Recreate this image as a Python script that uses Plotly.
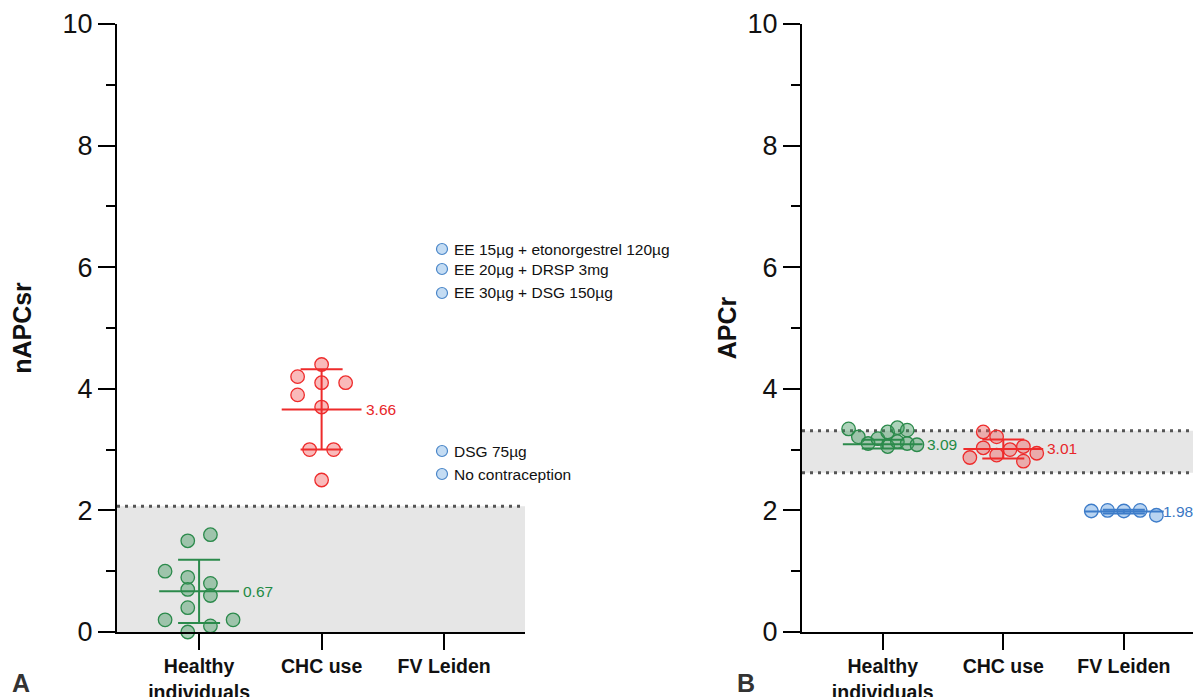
import plotly.graph_objects as go
import numpy as np

# ---------------- data ----------------
categories = ["Healthy<br>individuals", "CHC use", "FV Leiden"]
y_ticks = [0, 2, 4, 6, 8, 10]

# Panel A : nAPCsr
a_healthy = [1.5, 1.6, 1.0, 0.9, 0.8, 0.7, 0.6, 0.4, 0.2, 0.1, 0.2, 0.0]
a_chc = [4.4, 4.2, 4.1, 4.1, 3.9, 3.7, 3.0, 3.0, 2.5]
a_means = [0.67, 3.66]
a_sds = [0.52, 0.66]
a_reference_upper = 2.07

# Panel B : APCr
b_healthy = [3.34, 3.21, 3.10, 3.18, 3.29, 3.36, 3.32, 3.05, 3.13, 3.10, 3.08]
b_chc = [3.29, 3.21, 3.03, 2.87, 2.91, 3.00, 3.05, 2.81, 2.94]
b_fvl = [1.99, 2.00, 1.99, 2.00, 1.92]
b_means = [3.09, 3.01, 1.98]
b_sds = [0.07, 0.155, 0.03]
b_reference_range = [2.62, 3.31]

legend_labels = [
    "EE 15µg + etonorgestrel 120µg",
    "EE 20µg + DRSP 3mg",
    "EE 30µg + DSG 150µg",
    "DSG 75µg",
    "No contraception",
]

# ---------------- layout helpers (positions / styles) ----------------
OFF = 8                      # default body margin of the html page
W, H = 1201 - OFF, 697 - OFF
FONT = "Liberation Sans, Arial, sans-serif"


def px_x(px):
    return (px - OFF) / W


def px_y(py):
    return 1 - (py - OFF) / H


# horizontal slot positions of the dots (scatter-dot layout), in slot units
a_healthy_slots = [-0.5, 0.5, -1.5, -0.5, 0.5, -0.5, 0.5, -0.5, -1.5, 0.5, 1.5, -0.5]
a_chc_slots = [0, -1, 0, 1, -1, 0, -0.5, 0.5, 0]
b_healthy_slots = [-3.5, -2.5, -1.5, -0.5, 0.5, 1.5, 2.5, 0.5, 1.5, 2.5, 3.5]
b_chc_slots = [-1.5, -0.5, -1.5, -2.5, -0.5, 0.5, 1.5, 1.5, 2.5]
b_fvl_slots = [-2, -1, 0, 1, 2]

GREEN = "#2b8a4b"
GREEN_FILL = "rgba(60,150,90,0.42)"
RED = "#ee2b2b"
RED_FILL = "rgba(240,90,90,0.42)"
BLUE = "#3d7cc9"
BLUE_FILL = "rgba(100,160,225,0.45)"

fig = go.Figure()


def dots(xaxis, yaxis, idx, values, slots, spacing, line, fill):
    xs = idx + np.array(slots) * spacing
    fig.add_trace(go.Scatter(
        x=xs, y=values, mode="markers", xaxis=xaxis, yaxis=yaxis,
        marker=dict(size=13.5, color=fill, line=dict(color=line, width=1.3)),
        cliponaxis=False, showlegend=False, hoverinfo="y"))


def mean_sd(xaxis, yaxis, idx, mean, sd, color, label_color, label_shift=42):
    fig.add_trace(go.Scatter(
        x=[idx], y=[mean], mode="markers", xaxis=xaxis, yaxis=yaxis,
        marker=dict(symbol="line-ew", size=57, color=color,
                    line=dict(color=color, width=2)),
        error_y=dict(type="data", array=[sd], visible=True, width=21,
                     thickness=2, color=color),
        cliponaxis=False, showlegend=False, hoverinfo="y"))
    fig.add_annotation(x=idx, y=mean, xref=xaxis, yref=yaxis, text=f"{mean:.2f}",
                       showarrow=False, xanchor="left", yanchor="middle",
                       xshift=label_shift,
                       font=dict(family=FONT, size=15.5, color=label_color))


# Panel A
dots("x", "y", 0, a_healthy, a_healthy_slots, 0.185, GREEN, GREEN_FILL)
dots("x", "y", 1, a_chc, a_chc_slots, 0.196, RED, RED_FILL)
mean_sd("x", "y", 0, a_means[0], a_sds[0], GREEN, "#1f8a45")
mean_sd("x", "y", 1, a_means[1], a_sds[1], RED, "#e8262a")

# Panel B
dots("x2", "y2", 0, b_healthy, b_healthy_slots, 0.081, GREEN, GREEN_FILL)
dots("x2", "y2", 1, b_chc, b_chc_slots, 0.111, RED, RED_FILL)
dots("x2", "y2", 2, b_fvl, b_fvl_slots, 0.135, BLUE, BLUE_FILL)
mean_sd("x2", "y2", 0, b_means[0], b_sds[0], GREEN, "#1f8a45")
mean_sd("x2", "y2", 1, b_means[1], b_sds[1], RED, "#e8262a")
mean_sd("x2", "y2", 2, b_means[2], b_sds[2], BLUE, "#3a78c4", label_shift=37)

# reference ranges
DOT = dict(color="#555555", width=3, dash="3px,5px")
fig.add_shape(type="rect", xref="x domain", yref="y", x0=0, x1=1, y0=0,
              y1=a_reference_upper, fillcolor="#e6e6e6", line_width=0, layer="below")
fig.add_shape(type="line", xref="x domain", yref="y", x0=0, x1=1,
              y0=a_reference_upper, y1=a_reference_upper, line=DOT, layer="below")
fig.add_shape(type="rect", xref="x2 domain", yref="y2", x0=0, x1=1,
              y0=b_reference_range[0], y1=b_reference_range[1],
              fillcolor="#e6e6e6", line_width=0, layer="below")
for yv in b_reference_range:
    fig.add_shape(type="line", xref="x2 domain", yref="y2", x0=0, x1=1,
                  y0=yv, y1=yv, line=DOT, layer="below")

# legend (drawn as circles + labels)
legend_y_px = [249, 269, 293, 451, 474]
for label, py in zip(legend_labels, legend_y_px):
    fig.add_shape(type="circle", xref="paper", yref="paper",
                  xsizemode="pixel", ysizemode="pixel",
                  xanchor=px_x(442), yanchor=px_y(py),
                  x0=-5.5, x1=5.5, y0=-5.5, y1=5.5,
                  fillcolor="#c4dcf3", line=dict(color="#4a86c8", width=1.2))
    fig.add_annotation(x=px_x(452), y=px_y(py), xref="paper", yref="paper",
                       text=label, showarrow=False, xanchor="left", yanchor="middle",
                       font=dict(family=FONT, size=15.5, color="#111111"))

# panel letters
for letter, px in (("A", 21), ("B", 746)):
    fig.add_annotation(x=px_x(px), y=px_y(683), xref="paper", yref="paper",
                       text=f"<b>{letter}</b>", showarrow=False,
                       xanchor="center", yanchor="middle",
                       font=dict(family=FONT, size=25, color="#333333"))

xaxis_common = dict(
    tickmode="array", tickvals=list(range(len(categories))), ticktext=categories,
    showline=True, linecolor="black", linewidth=2,
    ticks="outside", ticklen=16, tickwidth=2, tickcolor="black",
    tickfont=dict(family=FONT, size=19.5, color="#111111", weight="bold"),
    showgrid=False, zeroline=False, automargin=False, fixedrange=True,
)
yaxis_common = dict(
    range=[0, 10], tickmode="array", tickvals=y_ticks,
    showline=True, linecolor="black", linewidth=2,
    ticks="outside", ticklen=17, tickwidth=2, tickcolor="black",
    minor=dict(ticks="outside", ticklen=9, tickwidth=2, tickcolor="black", dtick=1,
               tick0=0, showgrid=False),
    tickfont=dict(family=FONT, size=27, color="#111111"),
    showgrid=False, zeroline=False, automargin=False, fixedrange=True,
)

fig.update_layout(
    width=W, height=H, autosize=False,
    margin=dict(l=0, r=0, t=0, b=0),
    paper_bgcolor="white", plot_bgcolor="rgba(0,0,0,0)",
    showlegend=False,
    font=dict(family=FONT),
    xaxis=dict(xaxis_common, domain=[px_x(117), px_x(525)], range=[-0.67, 2.66], anchor="y"),
    yaxis=dict(yaxis_common, domain=[px_y(632), px_y(24)], anchor="x",
               title=dict(text="nAPCsr", standoff=24,
                          font=dict(family=FONT, size=25, color="#111111", weight="bold"))),
    xaxis2=dict(xaxis_common, domain=[px_x(802), 1.0], range=[-0.67, 2.64], anchor="y2"),
    yaxis2=dict(yaxis_common, domain=[px_y(632), px_y(24)], anchor="x2",
                title=dict(text="APCr", standoff=4,
                           font=dict(family=FONT, size=25, color="#111111", weight="bold"))),
)

fig.write_html("out.html")
